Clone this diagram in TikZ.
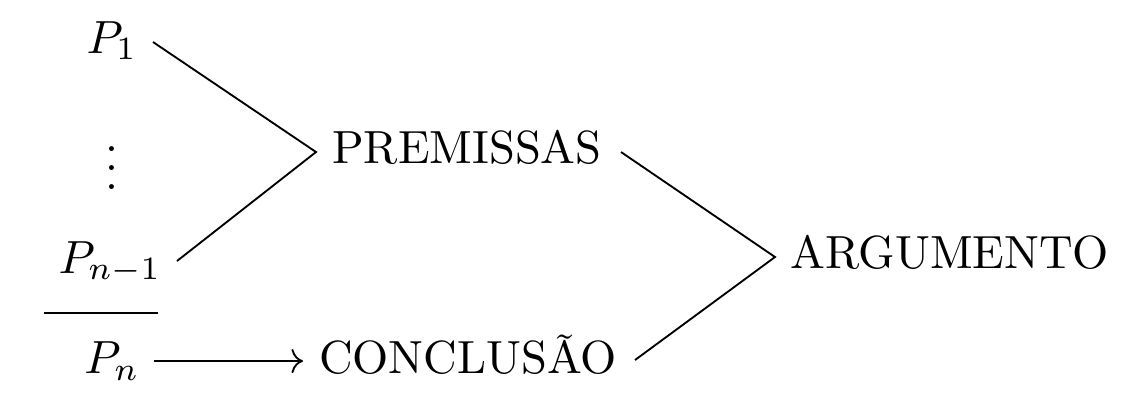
\documentclass[tikz,border=0pt]{standalone}
\usetikzlibrary{arrows.meta}
\begin{document}
\begin{tikzpicture}[x=0.21505pt,y=-0.21505pt,
  lbl/.style={inner sep=0pt,anchor=base},
  conn/.style={line width=0.4pt}]
\useasboundingbox (0,0) rectangle (1146,413);
% texts
\node[lbl] (p1) at (112,53) {$P_1$};
\node[inner sep=0pt] (dots) at (112,154) {$\vdots$};
\node[lbl] (pn1) at (110,273) {$P_{n-1}$};
\node[lbl] (pn) at (112,373) {$P_n$};
\node[lbl] (prem) at (467,163) {PREMISSAS};
\node[lbl] (conc) at (468,373) {CONCLUS\~AO};
\node[lbl] (arg) at (950,268) {ARGUMENTO};
% connector ends
\coordinate (a1) at (153,42);
\coordinate (a2) at (177,261);
\coordinate (v1) at (316,152);
\coordinate (b1) at (621,152);
\coordinate (b2) at (635,360);
\coordinate (v2) at (775,257);
\coordinate (r1) at (44,313);
\coordinate (r2) at (158,313);
\coordinate (s1) at (154,361);
\coordinate (s2) at (303,361);
\draw[conn] (a1) -- (v1) -- (a2);
\draw[conn] (b1) -- (v2) -- (b2);
\draw[conn] (r1) -- (r2);
\draw[conn,->] (s1) -- (s2);
\end{tikzpicture}
\end{document}
